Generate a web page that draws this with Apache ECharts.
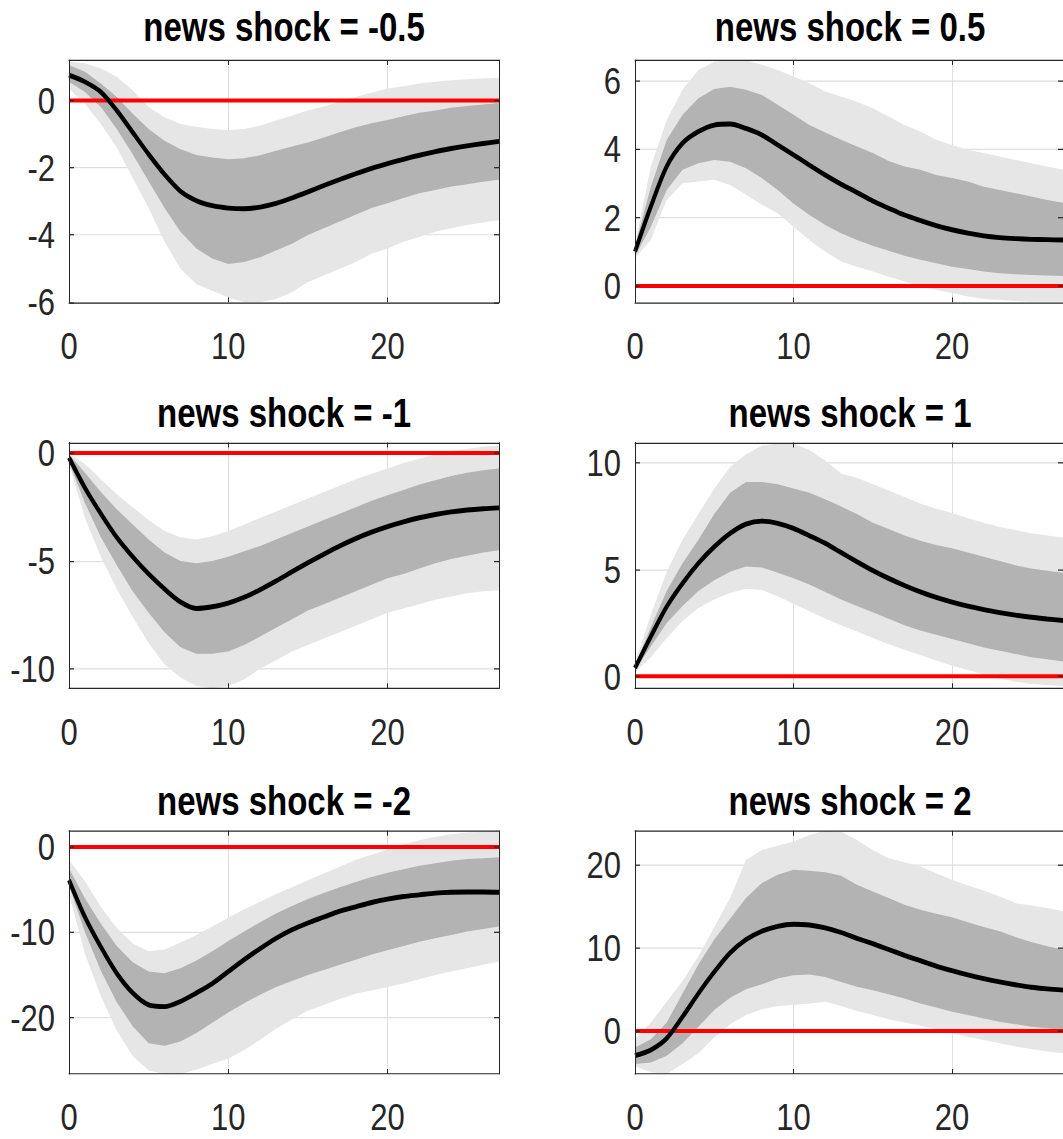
<!DOCTYPE html>
<html><head><meta charset="utf-8">
<script src="https://cdn.jsdelivr.net/npm/echarts@6/dist/echarts.min.js"></script>
<style>
html,body{margin:0;padding:0;background:#fff;overflow:hidden;width:1063px;height:1139px}
#c{width:1063px;height:934px;transform:scaleY(1.219486);transform-origin:0 0;}
</style>
</head><body><div id="c"></div>
<script>
// horizons (categories)
const horizon = [0,1,2,3,4,5,6,7,8,9,10,11,12,13,14,15,16,17,18,19,20,21,22,23,24,25,26,27];
const xTickStep = 10;

// news shock = -0.5
const n05_med  = [0.75,0.55,0.25,-0.3,-0.95,-1.6,-2.2,-2.7,-2.98,-3.13,-3.2,-3.22,-3.17,-3.06,-2.9,-2.72,-2.53,-2.35,-2.18,-2.02,-1.88,-1.75,-1.63,-1.52,-1.43,-1.35,-1.28,-1.22];
const n05_hi68 = [1.05,0.85,0.5,0.1,-0.4,-0.85,-1.2,-1.45,-1.62,-1.7,-1.75,-1.72,-1.63,-1.5,-1.37,-1.25,-1.1,-0.95,-0.8,-0.68,-0.58,-0.47,-0.37,-0.3,-0.22,-0.17,-0.12,-0.08];
const n05_lo68 = [0.55,0.25,-0.2,-0.85,-1.6,-2.4,-3.2,-3.9,-4.4,-4.7,-4.86,-4.8,-4.66,-4.46,-4.26,-4.0,-3.8,-3.6,-3.4,-3.2,-3.06,-2.9,-2.76,-2.66,-2.56,-2.49,-2.42,-2.36];
const n05_hi90 = [1.15,1.1,0.95,0.7,0.3,-0.2,-0.5,-0.7,-0.78,-0.85,-0.88,-0.85,-0.75,-0.6,-0.45,-0.3,-0.18,-0.05,0.1,0.23,0.35,0.42,0.5,0.55,0.6,0.63,0.65,0.67];
const n05_lo90 = [0.35,-0.1,-0.7,-1.4,-2.3,-3.2,-4.2,-5.0,-5.46,-5.66,-5.86,-6.0,-6.0,-5.9,-5.7,-5.4,-5.2,-5.0,-4.8,-4.56,-4.4,-4.2,-4.06,-3.9,-3.8,-3.7,-3.63,-3.56];
const n05_ticks = [-6,-4,-2,0];

// news shock = 0.5
const p05_med  = [1.0,2.32,3.49,4.17,4.51,4.7,4.73,4.6,4.41,4.12,3.83,3.53,3.24,2.97,2.73,2.48,2.27,2.07,1.91,1.76,1.64,1.54,1.46,1.41,1.38,1.36,1.35,1.34];
const p05_hi68 = [1.15,2.9,4.26,5.0,5.48,5.75,5.82,5.73,5.58,5.29,5.0,4.7,4.48,4.27,4.07,3.88,3.65,3.49,3.39,3.24,3.15,3.05,2.9,2.8,2.71,2.61,2.51,2.43];
const p05_lo68 = [0.86,1.73,2.8,3.39,3.58,3.68,3.63,3.44,3.15,2.8,2.41,2.07,1.78,1.54,1.34,1.17,1.03,0.88,0.76,0.66,0.56,0.49,0.42,0.37,0.34,0.32,0.3,0.29];
const p05_hi90 = [1.2,3.49,4.85,5.73,6.31,6.55,6.6,6.6,6.46,6.31,6.12,5.92,5.68,5.53,5.38,5.19,4.95,4.7,4.51,4.27,4.12,3.97,3.88,3.78,3.68,3.58,3.49,3.39];
const p05_lo90 = [0.81,1.34,2.51,3.0,3.05,3.1,2.95,2.66,2.37,2.12,1.73,1.34,1.0,0.71,0.56,0.42,0.27,0.13,-0.02,-0.12,-0.21,-0.31,-0.38,-0.41,-0.44,-0.46,-0.46,-0.46];
const p05_ticks = [0,2,4,6];

// news shock = -1
const n1_med  = [-0.2,-1.6,-2.8,-3.9,-4.8,-5.6,-6.3,-6.9,-7.2,-7.12,-6.95,-6.68,-6.33,-5.93,-5.5,-5.08,-4.68,-4.3,-3.96,-3.66,-3.4,-3.18,-2.99,-2.84,-2.72,-2.63,-2.57,-2.53];
const n1_hi68 = [-0.05,-0.9,-1.8,-2.6,-3.3,-4.0,-4.6,-5.0,-5.1,-5.0,-4.8,-4.55,-4.3,-4.0,-3.7,-3.4,-3.1,-2.8,-2.5,-2.2,-1.95,-1.7,-1.45,-1.25,-1.05,-0.9,-0.78,-0.7];
const n1_lo68 = [-0.4,-2.3,-3.9,-5.2,-6.4,-7.4,-8.3,-9.0,-9.3,-9.3,-9.2,-8.9,-8.5,-8.1,-7.7,-7.3,-7.0,-6.7,-6.4,-6.1,-5.8,-5.6,-5.35,-5.1,-4.9,-4.75,-4.6,-4.5];
const n1_hi90 = [0.0,-0.5,-1.2,-1.9,-2.5,-3.1,-3.6,-3.9,-4.0,-3.85,-3.6,-3.3,-3.0,-2.7,-2.4,-2.1,-1.8,-1.5,-1.2,-0.95,-0.7,-0.45,-0.25,-0.05,0.1,0.2,0.3,0.35];
const n1_lo90 = [-0.5,-3.0,-4.8,-6.3,-7.6,-8.8,-9.8,-10.4,-10.8,-10.9,-10.8,-10.5,-10.0,-9.6,-9.2,-8.9,-8.6,-8.3,-8.0,-7.7,-7.4,-7.2,-7.0,-6.8,-6.65,-6.5,-6.4,-6.35];
const n1_ticks = [-10,-5,0];

// news shock = 1
const p1_med  = [0.39,1.87,3.27,4.36,5.3,6.07,6.7,7.13,7.27,7.17,6.93,6.59,6.23,5.8,5.37,4.96,4.59,4.26,3.96,3.7,3.48,3.29,3.13,2.99,2.87,2.77,2.69,2.62];
const p1_hi68 = [0.5,2.3,4.0,5.3,6.4,7.6,8.6,9.1,9.1,9.0,8.8,8.6,8.3,7.95,7.6,7.2,6.9,6.6,6.35,6.15,6.0,5.8,5.6,5.4,5.2,5.05,4.95,4.85];
const p1_lo68 = [0.3,1.4,2.5,3.3,4.0,4.5,4.9,5.15,5.1,4.85,4.6,4.3,3.95,3.6,3.3,3.0,2.7,2.4,2.15,1.95,1.75,1.55,1.35,1.2,1.05,0.9,0.8,0.7];
const p1_hi90 = [0.6,2.9,4.9,6.4,7.6,8.8,9.8,10.4,10.8,10.9,10.9,10.6,10.1,9.5,9.3,9.0,8.7,8.4,8.1,7.85,7.65,7.4,7.2,7.0,6.85,6.7,6.6,6.5];
const p1_lo90 = [0.2,0.9,1.8,2.6,3.2,3.6,3.9,4.1,4.05,3.75,3.4,3.05,2.7,2.4,2.1,1.8,1.5,1.25,1.0,0.75,0.5,0.3,0.1,-0.1,-0.25,-0.35,-0.4,-0.45];
const p1_ticks = [0,5,10];

// news shock = -2
const n2_med  = [-3.87,-8.2,-11.7,-14.8,-17.1,-18.5,-18.7,-18.1,-17.1,-16.0,-14.6,-13.2,-11.9,-10.7,-9.7,-8.9,-8.2,-7.5,-7.0,-6.5,-6.1,-5.8,-5.6,-5.4,-5.3,-5.27,-5.27,-5.3];
const n2_hi68 = [-2.5,-6.0,-9.0,-11.6,-13.5,-14.6,-14.8,-14.2,-13.3,-12.2,-11.0,-9.9,-8.8,-7.8,-6.9,-6.1,-5.4,-4.7,-4.1,-3.5,-3.0,-2.6,-2.2,-1.9,-1.6,-1.4,-1.3,-1.2];
const n2_lo68 = [-4.5,-10.0,-14.5,-18.2,-21.0,-23.0,-23.3,-22.8,-21.8,-20.6,-19.4,-18.3,-17.3,-16.4,-15.7,-15.0,-14.4,-13.8,-13.2,-12.6,-12.1,-11.6,-11.1,-10.7,-10.3,-9.9,-9.6,-9.3];
const n2_hi90 = [-1.5,-4.0,-7.0,-9.5,-11.3,-12.2,-12.0,-11.2,-10.3,-9.3,-8.3,-7.3,-6.4,-5.5,-4.7,-3.9,-3.1,-2.3,-1.5,-0.9,-0.3,0.3,0.8,1.2,1.5,1.7,1.8,1.9];
const n2_lo90 = [-5.5,-12.5,-17.5,-21.5,-24.5,-26.2,-26.6,-26.6,-26.1,-25.4,-24.8,-23.8,-22.6,-21.3,-20.2,-19.2,-18.5,-17.8,-17.2,-16.8,-16.4,-16.0,-15.5,-15.0,-14.6,-14.2,-13.8,-13.4];
const n2_ticks = [-20,-10,0];

// news shock = 2
const p2_med  = [-3.0,-2.3,-0.9,1.7,4.5,7.1,9.4,11.0,12.0,12.6,12.85,12.75,12.4,11.85,11.15,10.5,9.8,9.1,8.45,7.8,7.25,6.75,6.3,5.9,5.55,5.25,5.05,4.9];
const p2_hi68 = [-2.0,-1.0,1.0,4.5,8.0,11.0,13.5,16.0,17.8,18.8,19.4,19.3,19.1,18.7,17.6,16.8,16.0,15.2,14.6,14.1,13.7,13.1,12.5,12.0,11.3,10.7,10.2,9.8];
const p2_lo68 = [-4.0,-3.8,-3.0,-1.5,0.5,2.5,4.0,5.0,5.6,6.3,6.7,6.8,6.5,5.9,5.3,4.9,4.4,3.9,3.3,2.8,2.3,1.9,1.5,1.1,0.8,0.5,0.3,0.1];
const p2_hi90 = [-1.0,1.0,3.5,6.0,9.0,12.5,16.0,20.6,21.8,22.3,22.8,23.6,24.1,24.0,23.0,21.8,20.8,20.3,19.8,19.0,18.2,17.5,16.9,16.2,15.4,15.1,14.8,14.4];
const p2_lo90 = [-4.3,-5.0,-5.2,-4.0,-2.7,-0.8,0.8,1.9,2.6,3.0,3.1,3.3,3.5,3.0,2.4,1.9,1.4,1.0,0.6,0.2,-0.3,-0.7,-1.1,-1.5,-1.9,-2.2,-2.5,-2.7];
const p2_ticks = [0,10,20];

const titles = ['news shock = -0.5','news shock = 0.5','news shock = -1','news shock = 1','news shock = -2','news shock = 2'];

const panels = [
  {med:n05_med, hi68:n05_hi68, lo68:n05_lo68, hi90:n05_hi90, lo90:n05_lo90, ticks:n05_ticks, yMin:-6, yMax:1.2},
  {med:p05_med, hi68:p05_hi68, lo68:p05_lo68, hi90:p05_hi90, lo90:p05_lo90, ticks:p05_ticks, yMin:-0.48, yMax:6.6},
  {med:n1_med, hi68:n1_hi68, lo68:n1_lo68, hi90:n1_hi90, lo90:n1_lo90, ticks:n1_ticks, yMin:-10.9, yMax:0.5},
  {med:p1_med, hi68:p1_hi68, lo68:p1_lo68, hi90:p1_hi90, lo90:p1_lo90, ticks:p1_ticks, yMin:-0.55, yMax:10.95},
  {med:n2_med, hi68:n2_hi68, lo68:n2_lo68, hi90:n2_hi90, lo90:n2_lo90, ticks:n2_ticks, yMin:-26.6, yMax:1.9},
  {med:p2_med, hi68:p2_hi68, lo68:p2_lo68, hi90:p2_hi90, lo90:p2_lo90, ticks:p2_ticks, yMin:-5.2, yMax:24.1}
];

// layout (in unscaled chart pixels)
const colLeft = [69, 635], plotW = 430;
const rowTop = [49.2, 362.9, 681.3], rowH = [198.7, 201.4, 199.4], titleY = [22.1, 339.1, 656.8];
const AX = '#262626', GRIDC = '#dedede', FONT = 'Liberation Sans';

const grid = [], xAxis = [], yAxis = [], series = [], title = [];
panels.forEach((p, i) => {
  const r = Math.floor(i / 2), c = i % 2;
  grid.push({left: colLeft[c], top: rowTop[r], width: plotW, height: rowH[r]});
  title.push({text: titles[i], left: colLeft[c] + plotW / 2, top: titleY[r], textAlign: 'center', textVerticalAlign: 'middle', padding: 0,
    textStyle: {fontFamily: FONT, fontWeight: 'bold', fontSize: 33, color: '#000'}});
  const bx = {type: 'category', gridIndex: i, data: horizon, boundaryGap: false};
  xAxis.push(Object.assign({}, bx, {position: 'bottom', z: 0, axisLine: {show: false}, axisTick: {show: false},
    axisLabel: {show: false}, splitLine: {show: true, interval: xTickStep - 1, lineStyle: {color: GRIDC, width: 1}}}));
  xAxis.push(Object.assign({}, bx, {position: 'bottom', z: 6, axisLine: {show: true, onZero: false, lineStyle: {color: AX, width: 1}},
    axisTick: {show: true, inside: true, length: 4, interval: xTickStep - 1, lineStyle: {color: AX}},
    axisLabel: {show: true, interval: xTickStep - 1, margin: 20, fontSize: 31, fontFamily: FONT, color: AX}, splitLine: {show: false}}));
  xAxis.push(Object.assign({}, bx, {position: 'top', z: 6, axisLine: {show: true, onZero: false, lineStyle: {color: AX, width: 1}},
    axisTick: {show: true, inside: true, length: 4, interval: xTickStep - 1, lineStyle: {color: AX}},
    axisLabel: {show: false}, splitLine: {show: false}}));
  const by = {type: 'value', gridIndex: i, min: p.yMin, max: p.yMax};
  yAxis.push(Object.assign({}, by, {position: 'left', z: 0, axisLine: {show: false}, axisTick: {show: false, customValues: p.ticks},
    axisLabel: {show: false, customValues: p.ticks}, splitLine: {show: true, lineStyle: {color: GRIDC, width: 1}}}));
  yAxis.push(Object.assign({}, by, {position: 'left', z: 6, axisLine: {show: true, onZero: false, lineStyle: {color: AX, width: 1}},
    axisTick: {show: true, inside: true, length: 5, customValues: p.ticks, lineStyle: {color: AX}},
    axisLabel: {show: true, customValues: p.ticks, margin: 14, padding: [8, 0, 0, 0], fontSize: 31, fontFamily: FONT, color: AX}, splitLine: {show: false}}));
  yAxis.push(Object.assign({}, by, {position: 'right', z: 6, axisLine: {show: true, onZero: false, lineStyle: {color: AX, width: 1}},
    axisTick: {show: true, inside: true, length: 5, customValues: p.ticks, lineStyle: {color: AX}},
    axisLabel: {show: false}, splitLine: {show: false}}));
  const xi = 3 * i, yi = 3 * i;
  const common = {type: 'line', xAxisIndex: xi, yAxisIndex: yi, symbol: 'none', silent: true, stackStrategy: 'all'};
  series.push(Object.assign({}, common, {stack: 'b90_' + i, z: 1, data: p.lo90, lineStyle: {opacity: 0}}));
  series.push(Object.assign({}, common, {stack: 'b90_' + i, z: 1, data: p.hi90.map((v, j) => v - p.lo90[j]),
    lineStyle: {opacity: 0}, areaStyle: {color: '#e6e6e6', opacity: 1}}));
  series.push(Object.assign({}, common, {stack: 'b68_' + i, z: 2, data: p.lo68, lineStyle: {opacity: 0}}));
  series.push(Object.assign({}, common, {stack: 'b68_' + i, z: 2, data: p.hi68.map((v, j) => v - p.lo68[j]),
    lineStyle: {opacity: 0}, areaStyle: {color: '#b3b3b3', opacity: 1},
    markLine: {silent: true, symbol: ['none', 'none'], z: 3, animation: false, label: {show: false},
      lineStyle: {color: '#ff0000', width: 3.3, type: 'solid'}, data: [{yAxis: 0}]}}));
  series.push({type: 'line', xAxisIndex: xi, yAxisIndex: yi, symbol: 'none', silent: true, z: 4, smooth: 0.3,
    data: p.med, lineStyle: {color: '#000', width: 4}});
});

const chart = echarts.init(document.getElementById('c'), null, {renderer: 'svg'});
chart.setOption({animation: false, backgroundColor: '#fff', title, grid, xAxis, yAxis, series});
</script>
</body></html>
